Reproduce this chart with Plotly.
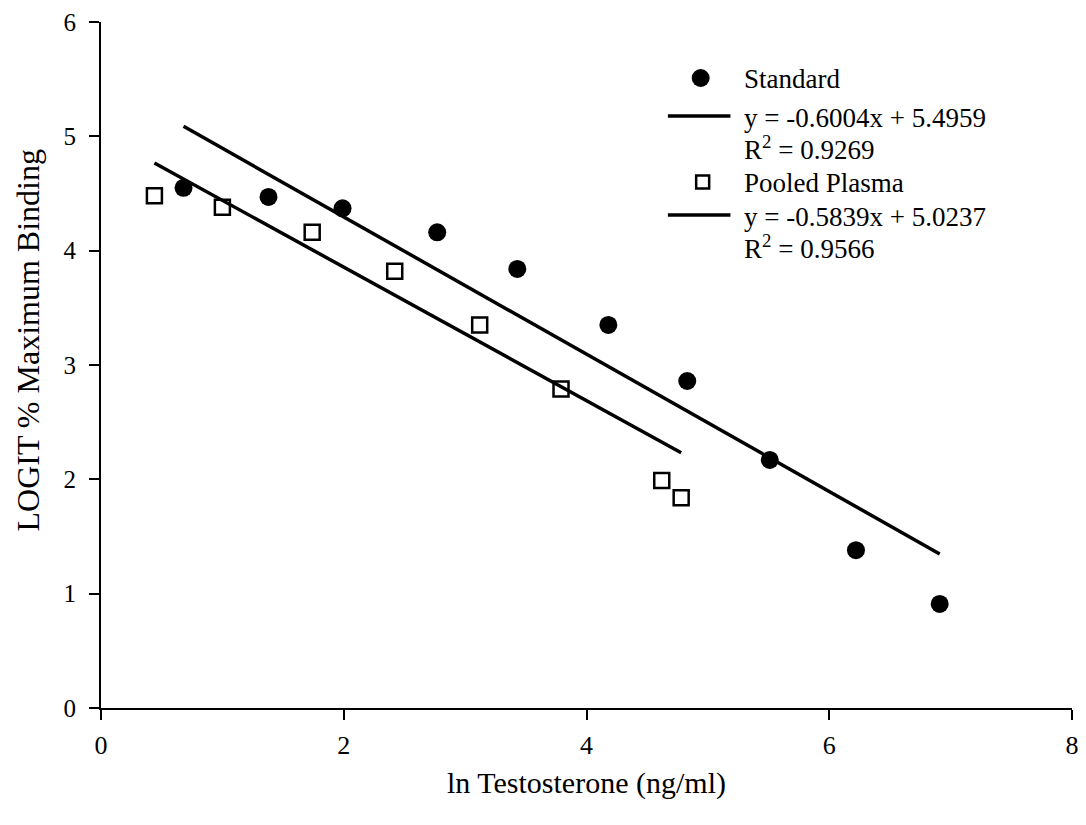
import plotly.graph_objects as go

# Data
std_x = [0.68, 1.38, 1.99, 2.77, 3.43, 4.18, 4.83, 5.51, 6.22, 6.91]
std_y = [4.55, 4.47, 4.37, 4.16, 3.84, 3.35, 2.86, 2.17, 1.38, 0.91]
pool_x = [0.44, 1.00, 1.74, 2.42, 3.12, 3.79, 4.62, 4.78]
pool_y = [4.48, 4.38, 4.16, 3.82, 3.35, 2.79, 1.99, 1.84]

std_slope, std_int, std_r2 = -0.6004, 5.4959, 0.9269
pool_slope, pool_int, pool_r2 = -0.5839, 5.0237, 0.9566

x_ticks = [0, 2, 4, 6, 8]
y_ticks = [0, 1, 2, 3, 4, 5, 6]

FONT = "Liberation Serif"

fig = go.Figure()

# Trend lines
sx = [min(std_x), max(std_x)]
px_ = [min(pool_x), max(pool_x)]
fig.add_trace(go.Scatter(x=sx, y=[std_slope * v + std_int for v in sx], mode="lines",
                         line=dict(color="black", width=3.5), showlegend=False, hoverinfo="skip"))
fig.add_trace(go.Scatter(x=px_, y=[pool_slope * v + pool_int for v in px_], mode="lines",
                         line=dict(color="black", width=3.5), showlegend=False, hoverinfo="skip"))

# Points
fig.add_trace(go.Scatter(x=std_x, y=std_y, mode="markers", name="Standard",
                         marker=dict(symbol="circle", size=18, color="black"), showlegend=False))
fig.add_trace(go.Scatter(x=pool_x, y=pool_y, mode="markers", name="Pooled Plasma",
                         marker=dict(symbol="square-open", size=15, color="black",
                                     line=dict(width=2.5, color="black")), showlegend=False))

# Plot area geometry (pixels)
L, R, T, B = 101, 1079, 22, 708
W, H = R - L, B - T
def pxx(p):
    return (p - L) / W
def pxy(p):
    return (B - p) / H

shapes = []
# legend glyphs
shapes.append(dict(type="circle", xref="paper", yref="paper", xsizemode="pixel", ysizemode="pixel",
                   xanchor=pxx(705), yanchor=pxy(78), x0=-9, x1=9, y0=-9, y1=9,
                   fillcolor="black", line=dict(color="black", width=0)))
shapes.append(dict(type="rect", xref="paper", yref="paper", xsizemode="pixel", ysizemode="pixel",
                   xanchor=pxx(707), yanchor=pxy(182), x0=-6.5, x1=6.5, y0=-6.5, y1=6.5,
                   fillcolor="white", line=dict(color="black", width=2.5)))
for yy in (116, 215):
    shapes.append(dict(type="line", xref="paper", yref="paper", x0=pxx(672), x1=pxx(735),
                       y0=pxy(yy), y1=pxy(yy), line=dict(color="black", width=3.5)))

legend_texts = [
    ("Standard", 79),
    (f"y = {std_slope:.4f}x + {std_int:.4f}", 118),
    (f"R<sup>2</sup> = {std_r2:.4f}", 148),
    ("Pooled Plasma", 183),
    (f"y = {pool_slope:.4f}x + {pool_int:.4f}", 217),
    (f"R<sup>2</sup> = {pool_r2:.4f}", 247),
]
annotations = []
for txt, yy in legend_texts:
    annotations.append(dict(text=txt, xref="paper", yref="paper", x=pxx(747), y=pxy(yy),
                            xanchor="left", yanchor="middle", showarrow=False,
                            font=dict(family=FONT, size=27, color="black")))

# Axis titles
annotations.append(dict(text="ln Testosterone (ng/ml)", xref="paper", yref="paper",
                        x=pxx(590), y=pxy(783), xanchor="center", yanchor="middle",
                        showarrow=False, font=dict(family=FONT, size=30, color="black")))
annotations.append(dict(text="LOGIT % Maximum Binding", xref="paper", yref="paper",
                        x=pxx(27), y=pxy(340), xanchor="center", yanchor="middle", textangle=-90,
                        showarrow=False, font=dict(family=FONT, size=32, color="black")))

fig.update_layout(
    width=1086, height=825,
    margin=dict(l=L, r=1086 - R, t=T, b=825 - B),
    paper_bgcolor="white", plot_bgcolor="white",
    font=dict(family=FONT, size=24, color="black"),
    shapes=shapes, annotations=annotations,
    showlegend=False,
)
fig.update_xaxes(range=[0, 8], tickvals=x_ticks, showgrid=False, zeroline=False,
                 showline=True, linecolor="black", linewidth=2,
                 ticks="outside", ticklen=10, tickwidth=2, tickcolor="black",
                 ticklabelstandoff=3,
                 tickfont=dict(family=FONT, size=26))
fig.update_yaxes(range=[0, 6], tickvals=y_ticks, showgrid=False, zeroline=False,
                 showline=True, linecolor="black", linewidth=2,
                 ticks="outside", ticklen=10, tickwidth=2, tickcolor="black",
                 ticklabelstandoff=8,
                 tickfont=dict(family=FONT, size=25))

fig.write_html("out.html")
